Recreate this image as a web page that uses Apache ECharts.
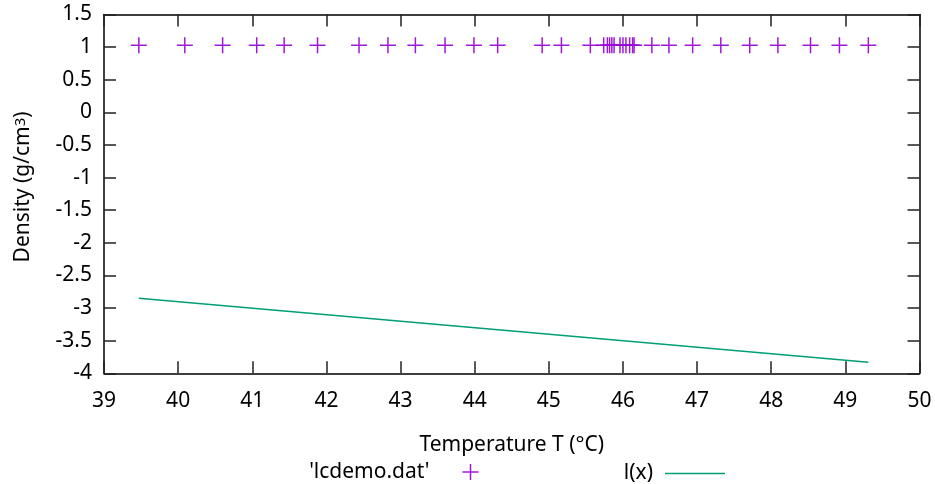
<!DOCTYPE html>
<html>
<head>
<meta charset="utf-8">
<script src="https://cdn.jsdelivr.net/npm/echarts@6/dist/echarts.min.js"></script>
<style>
html,body{margin:0;padding:0;background:#fff;}
#chart{width:935px;height:484px;}
</style>
</head>
<body>
<div id="chart"></div>
<script>
// Data
const temperature = [39.47, 40.09, 40.60, 41.06, 41.43, 41.88, 42.44, 42.83, 43.20, 43.60,
  43.99, 44.31, 44.91, 45.17, 45.56, 45.74, 45.79, 45.82, 45.85, 45.88, 45.96, 46.00,
  46.04, 46.09, 46.13, 46.15, 46.39, 46.62, 46.94, 47.32, 47.71, 48.09, 48.53, 48.92, 49.31];
const density = [1.03, 1.03, 1.03, 1.03, 1.03, 1.03, 1.03, 1.03, 1.03, 1.03,
  1.03, 1.03, 1.03, 1.03, 1.03, 1.03, 1.03, 1.03, 1.03, 1.03, 1.03, 1.03,
  1.03, 1.03, 1.03, 1.03, 1.03, 1.03, 1.03, 1.03, 1.03, 1.03, 1.03, 1.03, 1.03];
const fitX = [39.47, 49.31];
const fitY = [-2.85, -3.83];
const xTicks = [39, 40, 41, 42, 43, 44, 45, 46, 47, 48, 49, 50];
const yTicks = [-4, -3.5, -3, -2.5, -2, -1.5, -1, -0.5, 0, 0.5, 1, 1.5];
const scatterName = "'lcdemo.dat'";
const lineName = "l(x)";

const FONT = 'Noto Sans';
const FS = 21;
const plusPath = 'path://M7.25,0L8.75,0L8.75,7.25L16,7.25L16,8.75L8.75,8.75L8.75,16L7.25,16L7.25,8.75L0,8.75L0,7.25L7.25,7.25Z';
const linePath = 'path://M0,0L0.01,0L0,0.01Z M0,7.3L60,7.3L60,8.7L0,8.7Z M60,16L59.99,16L60,15.99Z';

const chart = echarts.init(document.getElementById('chart'), null, {renderer: 'canvas'});

const axisLine = {show: true, onZero: false, lineStyle: {color: '#000', width: 1.5}};
const axisTick = {show: true, inside: true, length: 12, lineStyle: {color: '#222', width: 1.5}};

const xMin = xTicks[0], xMax = xTicks[xTicks.length - 1];
const yMin = yTicks[0], yMax = yTicks[yTicks.length - 1];

chart.setOption({
  animation: false,
  backgroundColor: '#fff',
  textStyle: {fontFamily: FONT},
  grid: {left: 104, right: 15.5, top: 14.5, bottom: 110.7, containLabel: false},
  xAxis: [{
    type: 'value', position: 'bottom', min: xMin, max: xMax, interval: 1,
    name: 'Temperature T (°C)', nameLocation: 'middle', nameGap: 61,
    nameTextStyle: {color: '#000', fontSize: FS, fontFamily: FONT},
    axisLine: axisLine, axisTick: axisTick,
    axisLabel: {color: '#000', fontSize: FS, fontFamily: FONT, margin: 17},
    splitLine: {show: false}
  }, {
    type: 'value', position: 'top', min: xMin, max: xMax, interval: 1,
    axisLine: axisLine, axisTick: axisTick, axisLabel: {show: false}, splitLine: {show: false}
  }],
  yAxis: [{
    type: 'value', position: 'left', min: yMin, max: yMax, interval: 0.5,
    name: 'Density (g/cm{sup|3})', nameLocation: 'middle', nameGap: 70, nameRotate: 90,
    nameTextStyle: {color: '#000', fontSize: FS, fontFamily: FONT, padding: [0, 0, 0, 14],
      rich: {sup: {fontSize: 15, fontFamily: FONT, color: '#000', verticalAlign: 'top'}}},
    axisLine: axisLine, axisTick: axisTick,
    axisLabel: {color: '#000', fontSize: FS, fontFamily: FONT, margin: 12},
    splitLine: {show: false}
  }, {
    type: 'value', position: 'right', min: yMin, max: yMax, interval: 0.5,
    axisLine: axisLine, axisTick: axisTick, axisLabel: {show: false}, splitLine: {show: false}
  }],
  legend: [{
    data: [scatterName], align: 'right', orient: 'horizontal',
    right: 456.5, top: 461.5, padding: 0, itemWidth: 16, itemHeight: 16,
    textStyle: {color: '#000', fontSize: FS, fontFamily: FONT, padding: [0, 28, 0, 0]},
    selectedMode: false
  }, {
    data: [{name: lineName, icon: linePath}], align: 'right', orient: 'horizontal',
    right: 210, top: 463, padding: 0, itemWidth: 60, itemHeight: 16,
    itemStyle: {color: '#009e73'},
    textStyle: {color: '#000', fontSize: FS, fontFamily: FONT, padding: [0, 7, 0, 0]},
    selectedMode: false
  }],
  series: [{
    name: scatterName, type: 'scatter',
    data: temperature.map((t, i) => [t, density[i]]),
    symbol: plusPath, symbolSize: 16,
    itemStyle: {color: '#9400d3', opacity: 0.9},
    emphasis: {disabled: true}
  }, {
    name: lineName, type: 'line',
    data: fitX.map((x, i) => [x, fitY[i]]),
    symbol: 'none', showSymbol: false,
    lineStyle: {color: '#009e73', width: 1.4},
    itemStyle: {color: '#009e73'},
    emphasis: {disabled: true}
  }]
});
</script>
</body>
</html>
